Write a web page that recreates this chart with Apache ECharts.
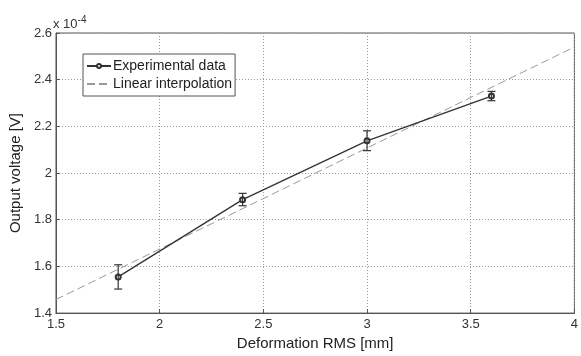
<!DOCTYPE html>
<html><head><meta charset="utf-8">
<script src="https://cdn.jsdelivr.net/npm/echarts@6/dist/echarts.min.js"></script>
<style>html,body{margin:0;padding:0;background:#fff}#c{width:581px;height:356px}</style>
</head><body><div id="c"></div>
<script>
var xValues = [1.8, 2.4, 3.0, 3.6];
var yValues = [1.555, 1.886, 2.138, 2.330];
var yErrLow = [1.503, 1.860, 2.096, 2.310];
var yErrHigh = [1.607, 1.913, 2.181, 2.350];
var fitX = [1.5, 4.0];
var fitY = [1.458, 2.540];
var xTicks = {min: 1.5, max: 4, interval: 0.5};
var yTicks = {min: 1.4, max: 2.6, interval: 0.2};

var font = 'Liberation Sans, Arial, sans-serif';
var chart = echarts.init(document.getElementById('c'), null, {renderer: 'canvas'});
var expData = xValues.map(function(x, i){ return [x, yValues[i]]; });
var errData = xValues.map(function(x, i){ return [x, yErrLow[i], yErrHigh[i]]; });
var fitData = fitX.map(function(x, i){ return [x, fitY[i]]; });

chart.setOption({
  animation: false,
  backgroundColor: '#fff',
  grid: {left: 53, right: 1, top: 33, bottom: 37, show: true, borderColor: '#555', borderWidth: 1, backgroundColor: 'transparent'},
  xAxis: {
    type: 'value', min: xTicks.min, max: xTicks.max, interval: xTicks.interval,
    name: 'Deformation RMS [mm]', nameLocation: 'middle', nameGap: 22,
    nameTextStyle: {fontFamily: font, fontSize: 15, color: '#222'},
    axisLine: {show: true, lineStyle: {color: '#555'}},
    axisTick: {show: true, inside: true, length: 4, lineStyle: {color: '#555'}},
    axisLabel: {fontFamily: font, fontSize: 13, color: '#333', margin: 5},
    splitLine: {show: true, lineStyle: {type: [1, 2], color: '#999'}}
  },
  yAxis: {
    type: 'value', min: yTicks.min, max: yTicks.max, interval: yTicks.interval,
    name: 'Output voltage [V]', nameLocation: 'middle', nameGap: 30,
    nameTextStyle: {fontFamily: font, fontSize: 15, color: '#222'},
    axisLine: {show: true, lineStyle: {color: '#555'}},
    axisTick: {show: true, inside: true, length: 4, lineStyle: {color: '#555'}},
    axisLabel: {fontFamily: font, fontSize: 13, color: '#333', margin: 4},
    splitLine: {show: true, lineStyle: {type: [1, 2], color: '#999'}}
  },
  legend: {
    orient: 'vertical', left: 83, top: 54, itemGap: 4, itemWidth: 24, itemHeight: 5,
    padding: [5, 3, 5, 3],
    borderColor: '#555', borderWidth: 1, backgroundColor: '#fff',
    textStyle: {fontFamily: font, fontSize: 14, color: '#222', padding: [0, 0, 0, -3]},
    data: [
      {name: 'Experimental data'},
      {name: 'Linear interpolation', itemStyle: {opacity: 0}}
    ]
  },
  graphic: [{
    type: 'text', left: 53, top: 15,
    style: {text: 'x 10{s|-4}', font: '13px ' + font, fill: '#333',
      rich: {s: {fontSize: 10, verticalAlign: 'top', padding: [0, 0, 9, 0], fontFamily: font}}}
  }],
  series: [
    {
      name: 'Linear interpolation', type: 'line', data: fitData, symbol: 'none',
      lineStyle: {color: '#999', width: 1, type: [8, 4]}, itemStyle: {color: '#999'}, z: 2
    },
    {
      name: 'Experimental data', type: 'line', data: expData, symbol: 'emptyCircle', symbolSize: 5,
      lineStyle: {color: '#333', width: 1.3}, itemStyle: {color: '#333', borderWidth: 1}, z: 3
    },
    {
      name: 'err', type: 'custom', data: errData, z: 4,
      renderItem: function(params, api){
        var x = api.value(0);
        var lo = api.coord([x, api.value(1)]);
        var hi = api.coord([x, api.value(2)]);
        var w = 4;
        var st = {stroke: '#333', lineWidth: 1.2};
        return {type: 'group', children: [
          {type: 'line', shape: {x1: lo[0], y1: lo[1], x2: hi[0], y2: hi[1]}, style: st},
          {type: 'line', shape: {x1: lo[0]-w, y1: lo[1], x2: lo[0]+w, y2: lo[1]}, style: st},
          {type: 'line', shape: {x1: hi[0]-w, y1: hi[1], x2: hi[0]+w, y2: hi[1]}, style: st}
        ]};
      }
    }
  ]
});
</script></body></html>
